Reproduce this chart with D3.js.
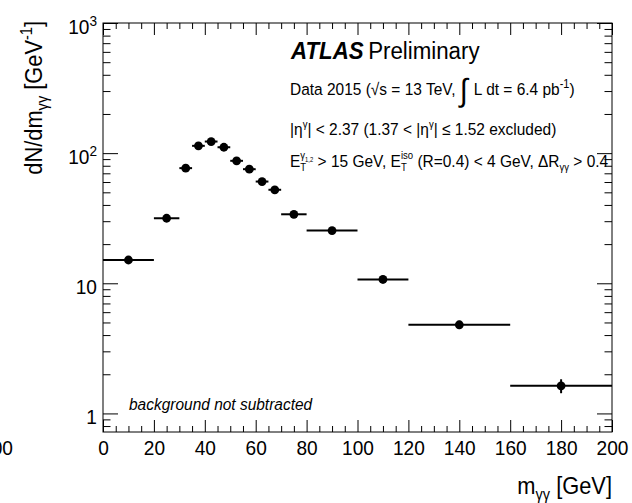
<!DOCTYPE html>
<html>
<head>
<meta charset="utf-8">
<script src="https://cdn.jsdelivr.net/npm/d3@7"></script>
<style>
  body { margin: 0; background: #fff; }
  text { font-family: "Liberation Sans", Arial, Helvetica, sans-serif; white-space: pre; fill: #000; }
</style>
</head>
<body>
<div id="chart"></div>
<script>
// bins in m_yy [GeV] and measured dN/dm [1/GeV]
const binLo = [0, 20, 30, 35, 40, 45, 50, 55, 60, 65, 70, 80, 100, 120, 160];
const binHi = [20, 30, 35, 40, 45, 50, 55, 60, 65, 70, 80, 100, 120, 160, 200];
const yVals = [15.1, 31.6, 76.7, 113.8, 122.8, 111, 87.3, 75.3, 60.5, 52.3, 33.9, 25.4, 10.7, 4.8, 1.63];
const yErrs = [0.87, 1.78, 3.9, 4.8, 5.0, 4.7, 4.2, 3.9, 3.5, 3.2, 1.84, 1.12, 0.73, 0.35, 0.2];

const xMajor = [0, 20, 40, 60, 80, 100, 120, 140, 160, 180, 200];
const xMinor = [5, 10, 15, 25, 30, 35, 45, 50, 55, 65, 70, 75, 85, 90, 95, 105, 110, 115,
                125, 130, 135, 145, 150, 155, 165, 170, 175, 185, 190, 195];
const yMajor = [1, 10, 100, 1000];
const yMinor = [0.8, 0.9, 2, 3, 4, 5, 6, 7, 8, 9, 20, 30, 40, 50, 60, 70, 80, 90,
                200, 300, 400, 500, 600, 700, 800, 900];
const yTickLabels = [["1", ""], ["10", ""], ["10", "2"], ["10", "3"]];

const width = 632, height = 503;
const margin = { top: 23, right: 20, bottom: 71, left: 103 };
const SX = 0.91; // the original font is a bit narrower

const svg = d3.select("#chart").append("svg")
  .attr("width", width).attr("height", height);
svg.append("rect").attr("width", width).attr("height", height).attr("fill", "#fff");

const x = d3.scaleLinear().domain([0, 200]).range([margin.left, width - margin.right]);
const y = d3.scaleLog().domain([0.72, 1000]).range([height - margin.bottom, margin.top]);

// lay out a run of text pieces (sub/superscripts, stacked indices) and return its width
function lay(g, segs, x0) {
  let cx = x0;
  segs.forEach((s) => {
    if (s.stack) {
      const w = d3.max(s.stack.map((part) => lay(g, part, cx) - cx));
      cx += w;
      return;
    }
    const t = g.append("text")
      .attr("x", cx)
      .attr("y", s.dy || 0)
      .style("font-size", s.size + "px")
      .style("font-style", s.italic ? "italic" : null)
      .style("font-weight", s.bold ? "bold" : null)
      .text(s.t);
    cx += t.node().getComputedTextLength() + (s.gap || 0);
  });
  return cx;
}

function richText(x0, y0, segs, anchor, rotate) {
  const g = svg.append("g")
    .attr("transform", `translate(${x0},${y0})${rotate ? " rotate(-90)" : ""} scale(${SX},1)`);
  const inner = g.append("g");
  const w = lay(inner, segs, 0);
  if (anchor === "end") inner.attr("transform", `translate(${-w},0)`);
  return g;
}

// axes (ticks point inwards on all four sides)
const bottom = height - margin.bottom, right = width - margin.right;

svg.append("g").attr("transform", `translate(0,${bottom})`)
  .call(d3.axisBottom(x).tickValues(xMajor).tickSizeInner(-12).tickSizeOuter(0)
    .tickPadding(8).tickFormat(d3.format("d")))
  .call((g) => g.select(".domain").remove())
  .call((g) => g.selectAll("text").attr("transform", `scale(${SX},1)`)
    .style("font-size", "21px").attr("font-family", null));
svg.append("g").attr("transform", `translate(0,${bottom})`)
  .call(d3.axisBottom(x).tickValues(xMinor).tickSize(-6).tickFormat(""))
  .call((g) => g.select(".domain").remove());
svg.append("g").attr("transform", `translate(0,${margin.top})`)
  .call(d3.axisTop(x).tickValues(xMajor).tickSize(-12).tickFormat(""))
  .call((g) => g.select(".domain").remove());
svg.append("g").attr("transform", `translate(0,${margin.top})`)
  .call(d3.axisTop(x).tickValues(xMinor).tickSize(-6).tickFormat(""))
  .call((g) => g.select(".domain").remove());

svg.append("g").attr("transform", `translate(${margin.left},0)`)
  .call(d3.axisLeft(y).tickValues(yMajor).tickSize(-15).tickFormat(""))
  .call((g) => g.select(".domain").remove());
svg.append("g").attr("transform", `translate(${margin.left},0)`)
  .call(d3.axisLeft(y).tickValues(yMinor).tickSize(-7.5).tickFormat(""))
  .call((g) => g.select(".domain").remove());
svg.append("g").attr("transform", `translate(${right},0)`)
  .call(d3.axisRight(y).tickValues(yMajor).tickSize(-15).tickFormat(""))
  .call((g) => g.select(".domain").remove());
svg.append("g").attr("transform", `translate(${right},0)`)
  .call(d3.axisRight(y).tickValues(yMinor).tickSize(-7.5).tickFormat(""))
  .call((g) => g.select(".domain").remove());

svg.selectAll(".tick line").attr("stroke", "#000").attr("stroke-width", 1);

yMajor.forEach((v, i) => {
  const [base, sup] = yTickLabels[i];
  const segs = [{ t: base, size: 21 }];
  if (sup) segs.push({ t: sup, size: 15, dy: -8 });
  richText(margin.left - 6, y(v) + 10.5, segs, "end");
});

// frame
svg.append("rect")
  .attr("x", margin.left).attr("y", margin.top)
  .attr("width", right - margin.left).attr("height", bottom - margin.top)
  .attr("fill", "none").attr("stroke", "#000").attr("stroke-width", 1);

// data points with bin widths and statistical errors
const pts = svg.append("g");
yVals.forEach((v, i) => {
  const cx = x((binLo[i] + binHi[i]) / 2);
  pts.append("line")
    .attr("x1", x(binLo[i])).attr("x2", x(binHi[i]))
    .attr("y1", y(v)).attr("y2", y(v))
    .attr("stroke", "#000").attr("stroke-width", 2);
  pts.append("line")
    .attr("x1", cx).attr("x2", cx)
    .attr("y1", y(v - yErrs[i])).attr("y2", y(v + yErrs[i]))
    .attr("stroke", "#000").attr("stroke-width", 2);
  pts.append("circle")
    .attr("cx", cx).attr("cy", y(v)).attr("r", 4.4).attr("fill", "#000");
});

// labels
const B = 17, S = 12, SS = 10.5;
richText(291, 58.5, [
  { t: "ATLAS", size: 24.5, bold: true, italic: true, gap: 5 },
  { t: "Preliminary", size: 24.5 }
]);
richText(290, 95, [
  { t: "Data 2015 (", size: B },
  { t: "\u221A", size: B },
  { t: "s = 13 TeV, ", size: B },
  { t: "\u222B", size: 32, dy: 6, gap: 2 },
  { t: " L dt = 6.4 pb", size: B },
  { t: "-1", size: S, dy: -7 },
  { t: ")", size: B }
]);
richText(290, 135, [
  { t: "|\u03B7", size: B },
  { t: "\u03B3", size: SS, dy: -7 },
  { t: "| < 2.37 (1.37 < |\u03B7", size: B },
  { t: "\u03B3", size: SS, dy: -7 },
  { t: "| \u2264 1.52 excluded)", size: B }
]);
richText(290, 166.5, [
  { t: "E", size: B },
  { stack: [
    [{ t: "\u03B3", size: SS, dy: -8 }, { t: "1,2", size: 6.5, dy: -5 }],
    [{ t: "T", size: SS, dy: 4 }]
  ] },
  { t: " > 15 GeV, E", size: B },
  { stack: [
    [{ t: "iso", size: SS, dy: -8 }],
    [{ t: "T", size: SS, dy: 4 }]
  ] },
  { t: " (R=0.4) < 4 GeV, \u0394R", size: B },
  { t: "\u03B3\u03B3", size: SS, dy: 4 },
  { t: " > 0.4", size: B }
]);
richText(129, 410, [{ t: "background not subtracted", size: 17, italic: true }]);

// axis titles
richText(42, 21, [
  { t: "dN/dm", size: 24 },
  { t: "\u03B3\u03B3", size: 16, dy: 6 },
  { t: " [GeV", size: 24 },
  { t: "-1", size: 16, dy: -10 },
  { t: "]", size: 24 }
], "end", true);
richText(right, 494, [
  { t: "m", size: 24 },
  { t: "\u03B3\u03B3", size: 16, dy: 6 },
  { t: " [GeV]", size: 24 }
], "end");

// cut-off tick label of the neighbouring pad
richText(13, 455, [{ t: "200", size: 21 }], "end");
</script>
</body>
</html>
